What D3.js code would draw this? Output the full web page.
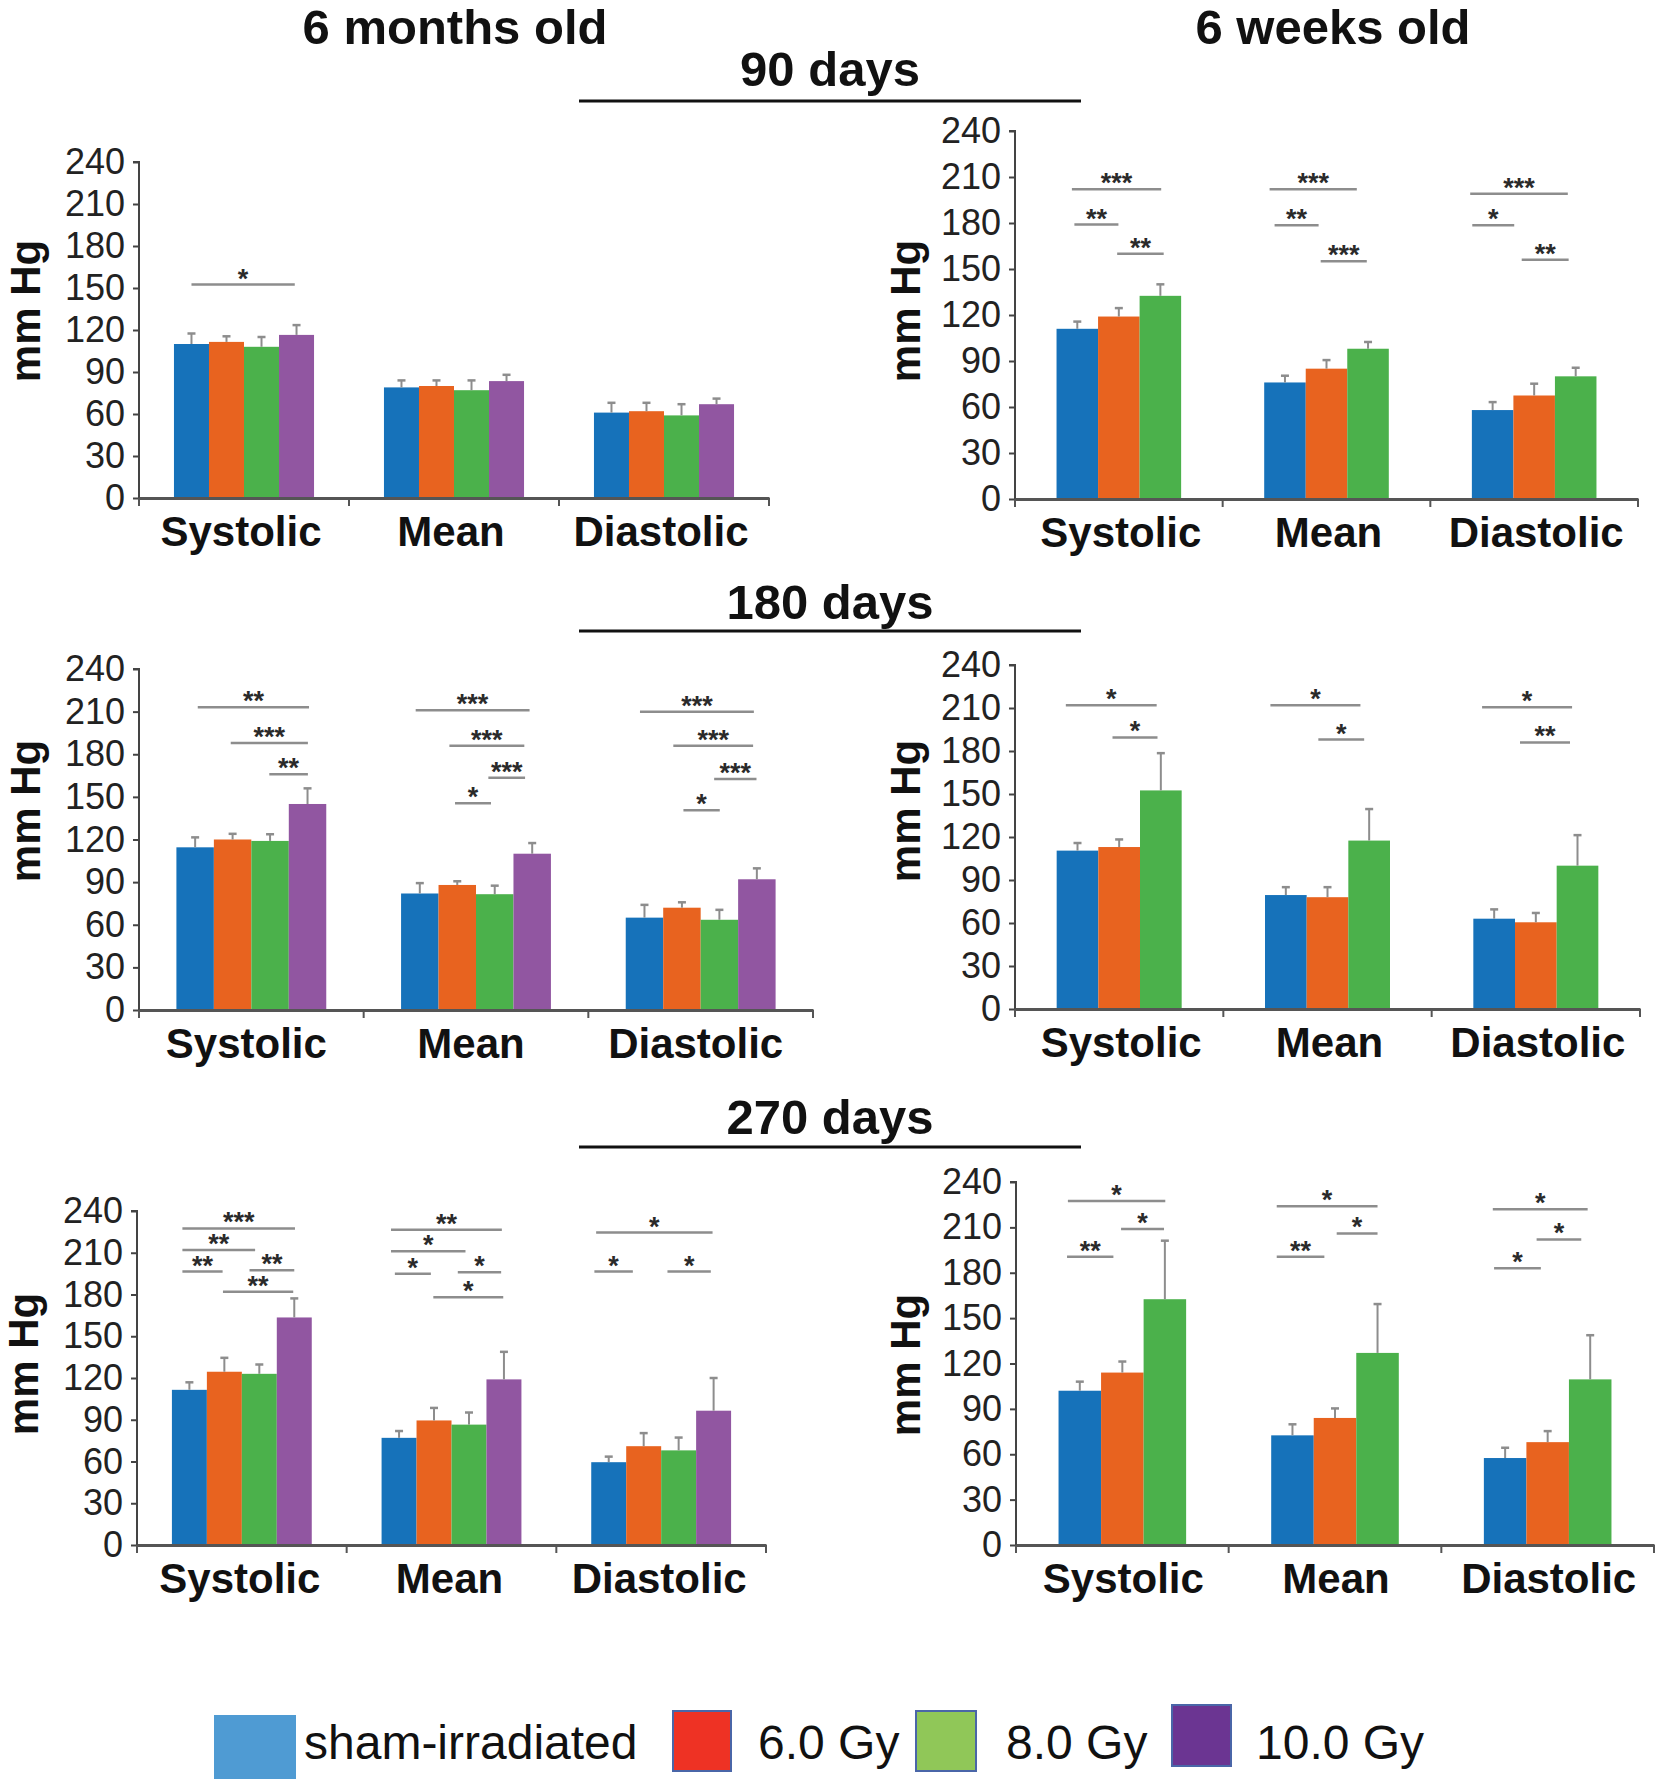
<!DOCTYPE html>
<html>
<head>
<meta charset="utf-8">
<script src="https://cdn.jsdelivr.net/npm/d3@7"></script>
<style>
  body { margin: 0; background: #fff; }
  svg { display: block; font-family: "Liberation Sans", Arial, sans-serif; }
</style>
</head>
<body>
<svg id="chart" width="1660" height="1783"></svg>
<script>
// ---------------- data ----------------
const categories = ["Systolic", "Mean", "Diastolic"];
const groups = ["sham-irradiated", "6.0 Gy", "8.0 Gy", "10.0 Gy"];
const barColors = ["#1672ba", "#e8631f", "#4bb14b", "#9156a1"];
const legendColors = ["#4f9bd3", "#ee3224", "#90c758", "#6b3592"];
const yTicks = [0, 30, 60, 90, 120, 150, 180, 210, 240];
const columnTitles = ["6 months old", "6 weeks old"];
const rowTitles = ["90 days", "180 days", "270 days"];

// 90 days, 6 months old
const d90m_mean = [[110, 111.5, 108, 116.5], [79, 80, 77, 83.5], [61, 62, 59, 67]];
const d90m_err  = [[7.5, 4, 7, 7], [5, 4, 7, 4.5], [7, 6, 8, 4]];
const d90m_sig  = [[0, 0.5, 3.45, 152.5, "*"]];

// 90 days, 6 weeks old
const d90w_mean = [[111, 119, 132.5], [76, 85, 98], [58, 67.5, 80]];
const d90w_err  = [[4.7, 5.5, 7.5], [4.4, 5.6, 4.4], [5.2, 7.7, 5.6]];
const d90w_sig  = [[0, 0.37, 2.52, 202, "***"], [0, 0.43, 1.49, 179, "**"], [0, 1.46, 2.58, 160, "**"],
                   [1, 0.13, 2.23, 202, "***"], [1, 0.25, 1.31, 178.5, "**"], [1, 1.36, 2.47, 155, "***"],
                   [2, -0.04, 2.31, 199, "***"], [2, 0.01, 1.02, 178.5, "*"], [2, 1.2, 2.33, 156, "**"]];

// 180 days, 6 months old
const d180m_mean = [[114.5, 120, 119, 145], [82, 88, 81.5, 110], [65, 72, 63.5, 92]];
const d180m_err  = [[7, 4, 4.7, 11], [7.3, 2.6, 6, 7.5], [9, 3.8, 7, 7.7]];
const d180m_sig  = [[0, 0.57, 3.54, 213, "**"], [0, 1.45, 3.51, 188, "***"], [0, 2.48, 3.51, 166, "**"],
                    [1, 0.39, 3.43, 211, "***"], [1, 1.29, 3.29, 186, "***"], [1, 2.33, 3.31, 163.5, "***"], [1, 1.44, 2.4, 145.5, "*"],
                    [2, 0.38, 3.42, 210, "***"], [2, 1.27, 3.4, 186, "***"], [2, 2.36, 3.49, 162.5, "***"], [2, 1.54, 2.51, 140.5, "*"]];

// 180 days, 6 weeks old
const d180w_mean = [[110.5, 113, 152.5], [79.5, 78, 117.5], [63, 60.5, 100]];
const d180w_err  = [[5.3, 5.3, 26], [5.5, 7, 22], [6.5, 6.5, 21.3]];
const d180w_sig  = [[0, 0.22, 2.4, 212, "*"], [0, 1.34, 2.42, 189.5, "*"],
                    [1, 0.13, 2.29, 212, "*"], [1, 1.28, 2.38, 188, "*"],
                    [2, 0.21, 2.37, 210.5, "*"], [2, 1.12, 2.32, 186, "**"]];

// 270 days, 6 months old
const d270m_mean = [[111.5, 124.5, 123, 163.5], [77, 89.5, 86.5, 119], [59.5, 71, 68, 96.5]];
const d270m_err  = [[5.4, 10, 6.7, 13.7], [4.9, 9, 8.7, 19.8], [4, 9.4, 9.2, 23.5]];
const d270m_sig  = [[0, 0.3, 3.52, 227.5, "***"], [0, 0.3, 2.38, 212, "**"], [0, 0.3, 1.45, 196.5, "**"], [0, 2.22, 3.5, 197.5, "**"], [0, 1.46, 3.47, 182, "**"],
                    [1, 0.27, 3.44, 226.5, "**"], [1, 0.27, 2.4, 211, "*"], [1, 0.38, 1.41, 195, "*"], [1, 2.18, 3.42, 196, "*"], [1, 1.48, 3.48, 178, "*"],
                    [2, 0.14, 3.47, 224.5, "*"], [2, 0.09, 1.19, 196.5, "*"], [2, 2.18, 3.42, 196.5, "*"]];

// 270 days, 6 weeks old
const d270w_mean = [[102, 114, 162.5], [72.5, 84, 127], [57.5, 68, 109.5]];
const d270w_err  = [[6, 7.3, 38.7], [7.3, 6.3, 32.3], [6.8, 7.3, 29.2]];
const d270w_sig  = [[0, 0.22, 2.51, 227.5, "*"], [0, 1.47, 2.48, 209, "*"], [0, 0.2, 1.29, 190.5, "**"],
                    [1, 0.13, 2.5, 224, "*"], [1, 1.54, 2.5, 206, "*"], [1, 0.13, 1.25, 190.5, "**"],
                    [2, 0.21, 2.44, 222, "*"], [2, 1.24, 2.29, 202, "*"], [2, 0.24, 1.34, 183, "*"]];

// ---------------- layout ----------------
const panels = [
  { mean: d90m_mean,  err: d90m_err,  sig: d90m_sig,  x0: 139,  x1: 769,  yTop: 162,  yBot: 498,  frac: 0.667, labX: 40,  labY: 311,  catDx: -3 },
  { mean: d90w_mean,  err: d90w_err,  sig: d90w_sig,  x0: 1015, x1: 1638, yTop: 131,  yBot: 499,  frac: 0.6,   labX: 920, labY: 311,  catDx: 2 },
  { mean: d180m_mean, err: d180m_err, sig: d180m_sig, x0: 139,  x1: 813,  yTop: 669,  yBot: 1010, frac: 0.667, labX: 40,  labY: 811,  catDx: -5 },
  { mean: d180w_mean, err: d180w_err, sig: d180w_sig, x0: 1015, x1: 1640, yTop: 665,  yBot: 1009, frac: 0.6,   labX: 920, labY: 811,  catDx: 2 },
  { mean: d270m_mean, err: d270m_err, sig: d270m_sig, x0: 137,  x1: 766,  yTop: 1211, yBot: 1545, frac: 0.667, labX: 38,  labY: 1364, catDx: -2 },
  { mean: d270w_mean, err: d270w_err, sig: d270w_sig, x0: 1016, x1: 1654, yTop: 1182, yBot: 1545, frac: 0.6,   labX: 920, labY: 1365, catDx: 1 }
];

const svg = d3.select("#chart");
svg.append("rect").attr("width", 1660).attr("height", 1783).attr("fill", "#fff");

// column titles
const colTitleX = [455, 1333];
columnTitles.forEach((t, i) => {
  svg.append("text").attr("x", colTitleX[i]).attr("y", 44)
    .attr("text-anchor", "middle").attr("font-size", 49).attr("font-weight", "bold")
    .attr("fill", "#111").text(t);
});

// row titles with underline
const rowTitleY = [86, 619, 1134];
const rowLineY = [101, 631, 1147];
rowTitles.forEach((t, i) => {
  svg.append("text").attr("x", 830).attr("y", rowTitleY[i])
    .attr("text-anchor", "middle").attr("font-size", 49).attr("font-weight", "bold")
    .attr("fill", "#111").text(t);
  svg.append("line").attr("x1", 579).attr("x2", 1081)
    .attr("y1", rowLineY[i]).attr("y2", rowLineY[i])
    .attr("stroke", "#111").attr("stroke-width", 3);
});

panels.forEach(p => {
  const n = p.mean[0].length;
  const x = d3.scaleBand().domain(categories).range([p.x0, p.x1]).padding(0);
  const y = d3.scaleLinear().domain([0, 240]).range([p.yBot, p.yTop]);
  const bw = x.bandwidth() * p.frac / n;
  const gx = c => x(c) + x.bandwidth() * (1 - p.frac) / 2;
  const sub = d3.scaleLinear().domain([0, n]).range([0, bw * n]);

  const g = svg.append("g");

  // y axis
  const yAxis = g.append("g").attr("transform", `translate(${p.x0},0)`)
    .call(d3.axisLeft(y).tickValues(yTicks).tickSize(6).tickPadding(8));
  yAxis.select(".domain").attr("stroke", "#444").attr("stroke-width", 2).attr("d", `M-6,${p.yTop}H0V${p.yBot}`);
  yAxis.selectAll(".tick line").attr("stroke", "#444").attr("stroke-width", 2);
  yAxis.selectAll(".tick text").attr("font-size", 36).attr("fill", "#222")
    .attr("font-family", "'Liberation Sans', Arial, sans-serif");

  // bars
  p.mean.forEach((row, ci) => {
    const cat = categories[ci];
    row.forEach((v, si) => {
      const bx = gx(cat) + sub(si);
      g.append("rect").attr("x", bx).attr("y", y(v)).attr("width", bw).attr("height", y(0) - y(v))
        .attr("fill", barColors[si]);
      const cx = bx + bw / 2;
      const top = y(v + p.err[ci][si]);
      g.append("line").attr("x1", cx).attr("x2", cx).attr("y1", y(v)).attr("y2", top)
        .attr("stroke", "#8d8d8d").attr("stroke-width", 2);
      g.append("line").attr("x1", cx - 4).attr("x2", cx + 4).attr("y1", top).attr("y2", top)
        .attr("stroke", "#8d8d8d").attr("stroke-width", 2.5);
    });
  });

  // x axis
  const xAxis = g.append("g").attr("transform", `translate(0,${p.yBot})`)
    .call(d3.axisBottom(x).tickSize(0).tickFormat(""));
  xAxis.select(".domain").attr("stroke", "#555").attr("stroke-width", 3);
  xAxis.selectAll(".tick").remove();
  const bounds = categories.map(c => x(c)).concat([p.x1]);
  bounds.forEach(b => {
    xAxis.append("line").attr("x1", b).attr("x2", b).attr("y1", 0).attr("y2", 8)
      .attr("stroke", "#555").attr("stroke-width", 2);
  });
  categories.forEach(c => {
    xAxis.append("text").attr("x", x(c) + x.bandwidth() / 2 + p.catDx).attr("y", 48)
      .attr("text-anchor", "middle").attr("font-size", 42).attr("font-weight", "bold")
      .attr("fill", "#111").text(c);
  });

  // significance brackets
  p.sig.forEach(([ci, u0, u1, val, lab]) => {
    const cat = categories[ci];
    const xa = gx(cat) + sub(u0), xb = gx(cat) + sub(u1), yy = y(val);
    g.append("line").attr("x1", xa).attr("x2", xb).attr("y1", yy).attr("y2", yy)
      .attr("stroke", "#8d8d8d").attr("stroke-width", 2.5);
    g.append("text").attr("x", (xa + xb) / 2).attr("y", yy + 3)
      .attr("text-anchor", "middle").attr("font-size", 27).attr("font-weight", "bold")
      .attr("fill", "#2a2a2a").text(lab);
  });

  // y label
  g.append("text").attr("transform", `translate(${p.labX},${p.labY}) rotate(-90)`)
    .attr("text-anchor", "middle").attr("font-size", 42).attr("font-weight", "bold")
    .attr("fill", "#111").text("mm Hg");
});

// legend
const legendBoxes = [[214, 1715, 82, 64], [673, 1711, 58, 60], [916, 1711, 60, 60], [1172, 1705, 59, 61]];
const legendTextX = [304, 758, 1006, 1256];
groups.forEach((name, i) => {
  const [bx, by, bw, bh] = legendBoxes[i];
  svg.append("rect").attr("x", bx).attr("y", by).attr("width", bw).attr("height", bh)
    .attr("fill", legendColors[i])
    .attr("stroke", i === 0 ? "none" : "#4a66a8").attr("stroke-width", 2);
  svg.append("text").attr("x", legendTextX[i]).attr("y", 1759)
    .attr("font-size", 48).attr("fill", "#111").text(name);
});
</script>
</body>
</html>
